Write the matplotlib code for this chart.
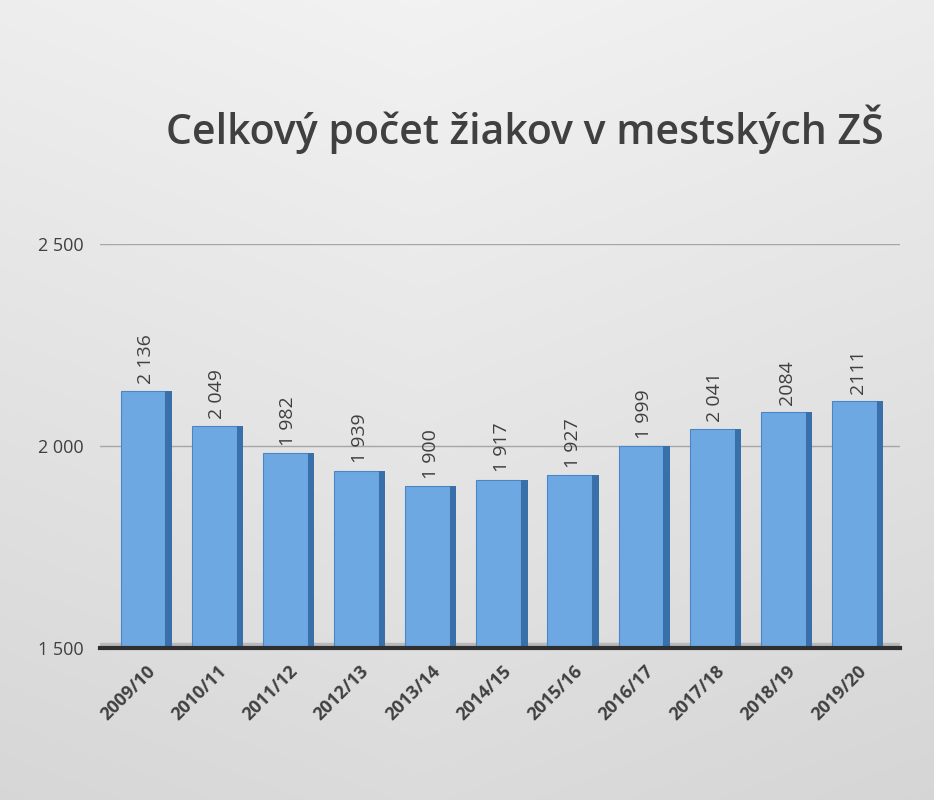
import matplotlib.pyplot as plt
import numpy as np

years = ["2009/10", "2010/11", "2011/12", "2012/13", "2013/14", "2014/15",
         "2015/16", "2016/17", "2017/18", "2018/19", "2019/20"]
pupils = [2136, 2049, 1982, 1939, 1900, 1917, 1927, 1999, 2041, 2084, 2111]
value_labels = ["2 136", "2 049", "1 982", "1 939", "1 900", "1 917",
                "1 927", "1 999", "2 041", "2084", "2111"]
y_ticks = [1500, 2000, 2500]
y_tick_labels = ["1 500", "2 000", "2 500"]
title = "Celkový počet žiakov v mestských ZŠ"


def main():
    plt.rcParams['font.family'] = ['Open Sans', 'DejaVu Sans']

    fig = plt.figure(figsize=(9.34, 8.0), dpi=100)

    # background gradient
    bg = fig.add_axes([0, 0, 1, 1], zorder=-10)
    yy, xx = np.mgrid[0:1:200j, 0:1:200j]
    shade = 0.95 - 0.09 * yy - 0.04 * np.abs(xx - 0.45)
    bg.imshow(np.dstack([shade, shade, shade]), extent=[0, 1, 0, 1],
              aspect='auto', origin='upper')
    bg.axis('off')

    ax = fig.add_axes([0.107, 0.19, 0.857, 0.505])
    ax.set_facecolor('none')
    x = np.arange(len(years))

    # floor of the 3D box
    ax.axhspan(1500, 1512, color='#b9b9b9', zorder=1)

    front_w = 0.63
    side_w = 0.09
    ax.bar(x - side_w / 2, np.array(pupils) - 1500, bottom=1500, width=front_w,
           color='#6ea8e2', edgecolor='#4a86c5', linewidth=0.8, zorder=3)
    ax.bar(x + front_w / 2, np.array(pupils) - 1500, bottom=1500, width=side_w,
           color='#3a70aa', linewidth=0, zorder=3)

    for xi, v, lab in zip(x, pupils, value_labels):
        ax.text(xi, v + 18, lab, rotation=90, ha='center', va='bottom',
                fontsize=14, color='#404040')

    ax.set_xlim(-0.65, 10.6)
    ax.set_ylim(1500, 2500)
    ax.set_yticks(y_ticks)
    ax.set_yticklabels(y_tick_labels, fontsize=13, color='#404040')
    ax.set_xticks(x)
    ax.set_xticklabels(years, rotation=45, ha='right', rotation_mode='anchor',
                       fontsize=13, fontweight='bold', color='#404040')
    ax.tick_params(length=0)
    ax.tick_params(axis='y', pad=12)
    ax.tick_params(axis='x', pad=10)

    ax.grid(axis='y', color='#a6a6a6', linewidth=1)
    ax.set_axisbelow(True)
    for s in ['top', 'right', 'left']:
        ax.spines[s].set_visible(False)
    ax.spines['bottom'].set_color('#2f2f2f')
    ax.spines['bottom'].set_linewidth(3)
    ax.spines['bottom'].set_zorder(4)

    fig.text(0.562, 0.838, title, ha='center', va='center', fontsize=29.5,
             fontweight='semibold', color='#404040')

    fig.savefig('out.png', dpi=100)


if __name__ == "__main__":
    main()
